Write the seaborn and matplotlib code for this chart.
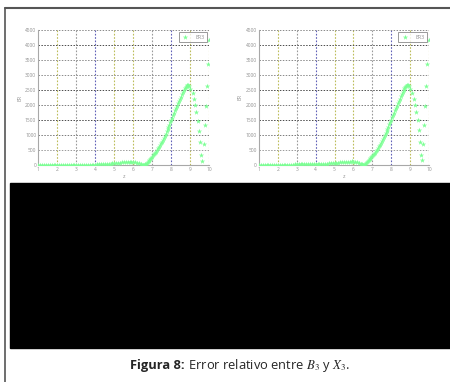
import matplotlib
matplotlib.use("Agg")
import matplotlib.pyplot as plt
import seaborn as sns
import pandas as pd
from matplotlib.patches import Rectangle
from matplotlib.lines import Line2D

# ---- data ----
z = [1.0, 1.1, 1.2, 1.3, 1.4, 1.5, 1.6, 1.7, 1.8, 1.9,
     2.0, 2.1, 2.2, 2.3, 2.4, 2.5, 2.6, 2.7, 2.8, 2.9,
     3.0, 3.1, 3.2, 3.3, 3.4, 3.5, 3.6, 3.7, 3.8, 3.9,
     4.0, 4.1, 4.2, 4.3, 4.4, 4.5, 4.6, 4.7, 4.8, 4.9,
     5.0, 5.1, 5.2, 5.3, 5.4, 5.5, 5.6, 5.7, 5.8, 5.9,
     6.0, 6.1, 6.2, 6.3, 6.4,
     6.45, 6.5, 6.55, 6.6, 6.65, 6.7, 6.75, 6.8, 6.85, 6.9, 6.95,
     7.0, 7.05, 7.1, 7.15, 7.2, 7.25, 7.3, 7.35, 7.4, 7.45,
     7.5, 7.55, 7.6, 7.65, 7.7, 7.75, 7.8, 7.85, 7.9, 7.95,
     8.0, 8.05, 8.1, 8.15, 8.2, 8.25, 8.3, 8.35, 8.4, 8.45,
     8.5, 8.55, 8.6, 8.65, 8.7, 8.75, 8.8, 8.85, 8.9, 8.95, 9.0,
     9.12, 9.18, 9.25, 9.3, 9.4, 9.45, 9.5, 9.57, 9.63, 9.7,
     9.76, 9.81, 9.86, 9.92, 10.0]
er3 = [2, 2, 2, 2, 3, 3, 3, 3, 3, 4,
       4, 4, 4, 5, 5, 5, 6, 6, 6, 7,
       7, 8, 8, 9, 9, 10, 11, 12, 13, 14,
       16, 19, 22, 26, 30, 34, 39, 44, 49, 55,
       61, 67, 73, 79, 85, 91, 97, 102, 106, 108,
       104, 94, 78, 57, 33,
       15, 4, 2, 20, 45, 75, 110, 145, 180, 215, 245,
       280, 320, 360, 405, 450, 500, 555, 610, 665, 720,
       780, 845, 910, 980, 1050, 1120, 1195, 1270, 1345, 1420,
       1500, 1580, 1660, 1740, 1820, 1900, 1975, 2050, 2130, 2205,
       2280, 2350, 2420, 2490, 2555, 2610, 2645, 2665, 2660, 2620, 2540,
       2400, 2200, 1990, 1760, 1480, 1145, 755, 320, 150, 700,
       1320, 1955, 2630, 3370, 4180]
series_label = "ER3"
x_ticks = [1, 2, 3, 4, 5, 6, 7, 8, 9, 10]
y_ticks = [0, 500, 1000, 1500, 2000, 2500, 3000, 3500, 4000, 4500]

df = pd.DataFrame({"z": z, "ER": er3})

sns.set_style("white")
plt.rcParams['font.family'] = ['Open Sans', 'DejaVu Sans']
plt.rcParams['mathtext.fontset'] = 'stix'

W, H = 450, 382
fig = plt.figure(figsize=(W / 100, H / 100), dpi=100)

green = '#7dff95'
vcolors = ['#bdbd5a', '#9a9a9a', '#6060b8', '#bdbd5a', '#bdbd5a', '#9a9a9a', '#6060b8', '#bdbd5a']
hcolors = ['#9a9a9a', '#7a7a7a', '#4a4a4a', '#7a7a7a', '#4a4a4a', '#8a8a8a', '#8a8a8a', '#4a4a4a']

def px_axes(x0, x1, ytop, ybot):
    return [x0 / W, 1 - ybot / H, (x1 - x0) / W, (ybot - ytop) / H]

for pos in [px_axes(38.3, 209.3, 30, 165), px_axes(259, 429, 30, 164.7)]:
    ax = fig.add_axes(pos)
    sns.scatterplot(data=df, x="z", y="ER", color=green, marker="*", s=16,
                    linewidth=0, label=series_label, ax=ax, zorder=3)
    ax.set_xlim(1, 10)
    ax.set_ylim(0, 4500)
    ax.set_xticks(x_ticks)
    ax.set_yticks(y_ticks)
    for xv, c in zip(x_ticks[1:-1], vcolors):
        ax.axvline(xv, color=c, ls=(0, (1.5, 1.5)), lw=0.8, zorder=1)
    for yv, c in zip(y_ticks[1:-1], hcolors):
        ax.axhline(yv, color=c, ls=(0, (1.5, 1.5)), lw=0.7, zorder=1)
    ax.axhline(4500, color='#8a8a8a', ls=(0, (1.5, 1.5)), lw=0.7, zorder=1)
    ax.axvline(10, color='#bdbd5a', ls=(0, (1.5, 1.5)), lw=0.8, zorder=1)
    for s in ['top', 'right']:
        ax.spines[s].set_visible(False)
    for s in ['left', 'bottom']:
        ax.spines[s].set_color('#a8a8a8')
        ax.spines[s].set_linewidth(0.8)
    ax.tick_params(axis='both', labelsize=3.5, colors='#909090', length=1.2,
                   direction='in', pad=1.5, width=0.4)
    ax.set_xlabel("z", fontsize=3.8, color='#909090', labelpad=1.5)
    ax.set_ylabel("ER", fontsize=3.8, color='#909090', labelpad=2)
    leg = ax.legend(loc='upper right', fontsize=3.8, frameon=True, fancybox=False,
                    edgecolor='#808080', borderaxespad=0.4, handlelength=1.5,
                    handletextpad=1.2, borderpad=0.5, markerscale=1.0)
    leg.get_frame().set_linewidth(0.7)
    for t in leg.get_texts():
        t.set_color('#909090')

# page frame lines
fig.add_artist(Line2D([5 / W, 5 / W], [1 - 8 / H, 0], transform=fig.transFigure,
                      color='#555555', lw=1.2))
fig.add_artist(Line2D([5 / W, 1], [1 - 8 / H, 1 - 8 / H], transform=fig.transFigure,
                      color='#555555', lw=1.5))

# black block
fig.add_artist(Rectangle((10 / W, 1 - 348 / H), 440 / W, 165 / H,
                         transform=fig.transFigure, color='black'))

# caption
t1 = fig.text(0, 1 - 369 / H, "Figura 8:", fontsize=9.3, fontweight='bold',
              ha='left', va='baseline')
t2 = fig.text(0, 1 - 369 / H, r" Error relativo entre $B_3$ y $X_3$.", fontsize=9.3,
              ha='left', va='baseline')
fig.canvas.draw()
r = fig.canvas.get_renderer()
w1 = t1.get_window_extent(r).width
w2 = t2.get_window_extent(r).width
start = 240 - (w1 + w2) / 2
t1.set_x(start / W)
t2.set_x((start + w1) / W)

fig.savefig("out.png", dpi=100)
